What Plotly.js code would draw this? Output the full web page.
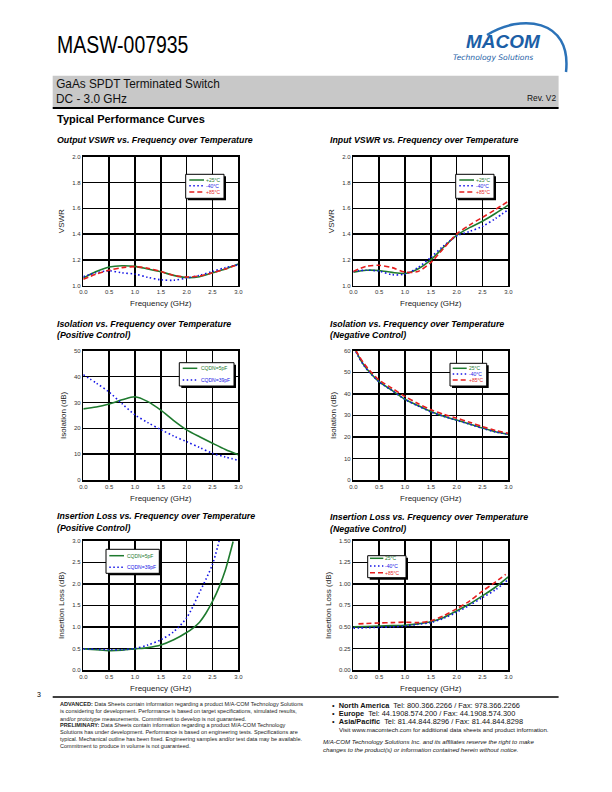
<!DOCTYPE html>
<html><head><meta charset="utf-8">
<script src="https://cdn.plot.ly/plotly-3.0.1.min.js"></script>
<style>html,body{margin:0;padding:0;background:#fff}#g{width:612px;height:792px}</style>
</head><body><div id="g"></div>
<script>
// ---------- DATA ----------
const freqQ = [0, 0.25, 0.5, 0.75, 1.0, 1.25, 1.5, 1.75, 2.0, 2.25, 2.5, 2.75, 3.0];

// Output VSWR
const outVswr25 = [1.06, 1.11, 1.145, 1.155, 1.15, 1.13, 1.108, 1.08, 1.063, 1.07, 1.10, 1.13, 1.168];
const outVswrM40 = [1.07, 1.10, 1.115, 1.10, 1.09, 1.065, 1.046, 1.042, 1.06, 1.08, 1.11, 1.14, 1.162];
const outVswr85 = [1.05, 1.09, 1.12, 1.14, 1.148, 1.135, 1.11, 1.08, 1.068, 1.075, 1.10, 1.13, 1.165];

// Input VSWR
const inVswr25 = [1.105, 1.12, 1.118, 1.103, 1.095, 1.13, 1.20, 1.30, 1.39, 1.45, 1.50, 1.56, 1.625];
const inVswrM40 = [1.11, 1.12, 1.113, 1.085, 1.09, 1.14, 1.22, 1.31, 1.385, 1.42, 1.46, 1.52, 1.59];
const inVswr85 = [1.11, 1.15, 1.158, 1.14, 1.105, 1.11, 1.18, 1.29, 1.40, 1.47, 1.53, 1.59, 1.655];

// Isolation, positive control
const isoPos5pF = [27.5, 28.2, 29.4, 31.0, 32.2, 30.3, 27.0, 23.0, 19.4, 16.7, 14.2, 11.8, 9.8];
const isoPos39pF = [40.7, 37.5, 34.0, 29.5, 25.2, 22.2, 19.5, 17.0, 14.8, 12.6, 10.3, 8.9, 7.6];

// Isolation, negative control
const freqIsoNeg = [0.05, 0.1, 0.2, 0.3, 0.5, 0.75, 1.0, 1.25, 1.5, 1.75, 2.0, 2.25, 2.5, 2.75, 3.0];
const isoNeg25 = [60, 57.5, 53.5, 50.5, 45.6, 41.6, 37.5, 34.6, 31.8, 29.6, 27.8, 26.0, 24.1, 22.4, 21.2];
const isoNegM40 = [59.5, 57.2, 53.3, 50.3, 45.5, 41.5, 37.4, 34.4, 31.6, 29.5, 27.7, 25.9, 24.0, 22.3, 21.2];
const isoNeg85 = [60, 58.0, 54.3, 51.3, 46.4, 42.6, 38.8, 35.5, 32.6, 30.5, 28.7, 26.8, 24.8, 23.0, 21.7];

// Insertion loss, positive control
const freqIlPos5 = [0, 0.25, 0.5, 0.75, 1.0, 1.25, 1.5, 1.75, 2.0, 2.13, 2.25, 2.37, 2.5, 2.63, 2.75, 2.9];
const ilPos5pF = [0.49, 0.47, 0.45, 0.46, 0.49, 0.52, 0.58, 0.70, 0.87, 0.98, 1.11, 1.31, 1.59, 1.93, 2.32, 2.98];
const freqIlPos39 = [0, 0.25, 0.5, 0.75, 1.0, 1.25, 1.5, 1.75, 2.0, 2.25, 2.5, 2.63];
const ilPos39pF = [0.49, 0.48, 0.47, 0.47, 0.50, 0.58, 0.70, 0.89, 1.21, 1.80, 2.45, 3.0];

// Insertion loss, negative control
const ilNeg25 = [0.50, 0.505, 0.51, 0.515, 0.52, 0.535, 0.56, 0.61, 0.685, 0.765, 0.86, 0.96, 1.08];
const ilNegM40 = [0.485, 0.49, 0.495, 0.50, 0.51, 0.53, 0.55, 0.60, 0.67, 0.75, 0.84, 0.93, 1.05];
const freqIlNeg85 = [0.1, 0.25, 0.5, 0.75, 1.0, 1.25, 1.5, 1.75, 2.0, 2.25, 2.5, 2.75, 2.95];
const ilNeg85 = [0.535, 0.54, 0.545, 0.55, 0.555, 0.55, 0.57, 0.63, 0.71, 0.80, 0.915, 1.02, 1.11];

const xTickVals = [0, 0.5, 1.0, 1.5, 2.0, 2.5, 3.0];

// ---------- STYLE / LAYOUT ----------
const W = 612, H = 792;
const px = x => x / W;
const py = y => 1 - y / H;
const FONT = 'Liberation Sans, Arial, sans-serif';
const GREEN = '#1e7a2e', BLUE = '#1414e6', RED = '#e61e1e';
const DOT = '1.5px,2.5px', DASH = '5px,3px';

function tr(x, y, color, dash, xa, ya) {
  return {x: x, y: y, type: 'scatter', mode: 'lines', xaxis: xa, yaxis: ya,
    line: {color: color, width: 1.6, dash: dash, shape: 'spline', smoothing: 0.8}, showlegend: false, hoverinfo: 'skip'};
}

const data = [
  tr(freqQ, outVswr25, GREEN, 'solid', 'x', 'y'),
  tr(freqQ, outVswrM40, BLUE, DOT, 'x', 'y'),
  tr(freqQ, outVswr85, RED, DASH, 'x', 'y'),
  tr(freqQ, inVswr25, GREEN, 'solid', 'x2', 'y2'),
  tr(freqQ, inVswrM40, BLUE, DOT, 'x2', 'y2'),
  tr(freqQ, inVswr85, RED, DASH, 'x2', 'y2'),
  tr(freqQ, isoPos5pF, GREEN, 'solid', 'x3', 'y3'),
  tr(freqQ, isoPos39pF, BLUE, DOT, 'x3', 'y3'),
  tr(freqIsoNeg, isoNeg25, GREEN, 'solid', 'x4', 'y4'),
  tr(freqIsoNeg, isoNegM40, BLUE, DOT, 'x4', 'y4'),
  tr(freqIsoNeg, isoNeg85, RED, DASH, 'x4', 'y4'),
  tr(freqIlPos5, ilPos5pF, GREEN, 'solid', 'x5', 'y5'),
  tr(freqIlPos39, ilPos39pF, BLUE, DOT, 'x5', 'y5'),
  tr(freqQ, ilNeg25, GREEN, 'solid', 'x6', 'y6'),
  tr(freqQ, ilNegM40, BLUE, DOT, 'x6', 'y6'),
  tr(freqIlNeg85, ilNeg85, RED, DASH, 'x6', 'y6')
];

const LX = [83.3, 238.3], RX = [353.3, 508.3];
const R1 = [156.7, 285.7], R2 = [350.7, 480], R3 = [540.7, 670];

function xax(dom, anchor) {
  return {domain: [px(dom[0]), px(dom[1])], anchor: anchor, range: [0, 3], tickvals: xTickVals,
    ticktext: xTickVals.map(v => v.toFixed(1)), showline: true, mirror: true, linecolor: '#000', linewidth: 1.5,
    showgrid: true, gridcolor: '#000', gridwidth: 1.5, zeroline: false, ticks: '',
    tickfont: {family: FONT, size: 6, color: '#333'},
    title: {text: 'Frequency (GHz)', font: {family: FONT, size: 8, color: '#222'}, standoff: 6}};
}
function yax(dom, anchor, range, dtick, dec, title) {
  const vals = [];
  for (let v = range[0]; v <= range[1] + 1e-9; v += dtick) vals.push(+v.toFixed(4));
  return {domain: [py(dom[1]), py(dom[0])], anchor: anchor, range: range, tickvals: vals,
    ticktext: vals.map(v => v.toFixed(dec)), showline: true, mirror: true, linecolor: '#000', linewidth: 1.5,
    showgrid: true, gridcolor: '#000', gridwidth: 1.5, zeroline: false, ticks: '',
    tickfont: {family: FONT, size: 6, color: '#333'},
    title: {text: title, font: {family: FONT, size: 8, color: '#222'}, standoff: 6}};
}

const shapes = [];
const annotations = [];
const condense = [];

function txt(x, y, text, size, opts) {
  annotations.push(Object.assign({xref: 'paper', yref: 'paper', x: px(x), y: py(y), text: text, showarrow: false,
    xanchor: 'left', yanchor: 'middle', font: {family: FONT, size: size, color: '#000'}}, opts || {}));
  return annotations.length - 1;
}

function legend(box, lineX, textX, rows) {
  shapes.push({type: 'rect', xref: 'paper', yref: 'paper', x0: px(box[0] + 2), x1: px(box[2] + 2), y0: py(box[3] + 2), y1: py(box[1] + 2),
    fillcolor: '#000', line: {width: 0}, layer: 'above'});
  shapes.push({type: 'rect', xref: 'paper', yref: 'paper', x0: px(box[0]), x1: px(box[2]), y0: py(box[3]), y1: py(box[1]),
    fillcolor: '#fff', line: {color: '#000', width: 1}, layer: 'above'});
  rows.forEach(r => {
    shapes.push({type: 'line', xref: 'paper', yref: 'paper', x0: px(lineX[0]), x1: px(lineX[1]), y0: py(r[0]), y1: py(r[0]),
      line: {color: r[1], width: 1.5, dash: r[2]}, layer: 'above'});
    txt(textX, r[0], r[3], 5, {font: {family: FONT, size: 5, color: r[1]}});
  });
}

// legends
legend([185.7, 174.3, 224, 198.3], [189.3, 204], 204, [[180, GREEN, 'solid', '+25°C'], [185.7, BLUE, DOT, '-40°C'], [192, RED, DASH, '+85°C']]);
legend([455.7, 174.3, 494, 198.3], [459.3, 474], 474, [[180, GREEN, 'solid', '+25°C'], [185.7, BLUE, DOT, '-40°C'], [192, RED, DASH, '+85°C']]);
legend([179.3, 362.7, 234, 386], [182.7, 197.3], 199, [[368.3, GREEN, 'solid', 'CQDN=5pF'], [380, BLUE, DOT, 'CQDN=39pF']]);
legend([450, 363.3, 486.7, 386], [452.7, 466.7], 467, [[368.3, GREEN, 'solid', '25°C'], [374, BLUE, DOT, '-40°C'], [380, RED, DASH, '+85°C']]);
legend([106, 549.3, 159.3, 573.3], [109.3, 124], 124.7, [[555.7, GREEN, 'solid', 'CQDN=5pF'], [567.3, BLUE, DOT, 'CQDN=39pF']]);
legend([367.7, 555.7, 406, 577.7], [370, 383.3], 383.3, [[558.3, GREEN, 'solid', '25°C'], [566, BLUE, DOT, '-40°C'], [572.7, RED, DASH, '+85°C']]);

// header
shapes.push({type: 'rect', xref: 'paper', yref: 'paper', x0: px(52.7), x1: px(558.6), y0: py(107.5), y1: py(75.7),
  fillcolor: '#c8c8c8', line: {width: 0}, layer: 'below'});
shapes.push({type: 'line', xref: 'paper', yref: 'paper', x0: px(52.7), x1: px(558.6), y0: py(108), y1: py(108),
  line: {color: '#000', width: 2}});
shapes.push({type: 'line', xref: 'paper', yref: 'paper', x0: px(52.7), x1: px(558.6), y0: py(697), y1: py(697),
  line: {color: '#000', width: 1.5}});
// logo arc
shapes.push({type: 'path', xref: 'paper', yref: 'paper',
  path: 'M ' + px(487) + ' ' + py(35) + ' C ' + px(520) + ' ' + py(14) + ' ' + px(572) + ' ' + py(18) + ' ' + px(566) + ' ' + py(72),
  line: {color: '#2b72b8', width: 2.5}});

condense.push([txt(55, 44, 'MASW-007935', 24, {font: {family: FONT, size: 24, color: '#000'}}), 0.81, 'left center']);
txt(464, 41, '<b><i>MACOM</i></b>', 19, {font: {family: FONT, size: 19, color: '#1b5ea6'}});
txt(451, 58, '<i>Technology Solutions</i>', 9, {font: {family: 'DejaVu Sans, sans-serif', size: 7.6, color: '#1b5ea6'}});
condense.push([txt(54, 83.5, 'GaAs SPDT Terminated Switch', 13, {font: {family: FONT, size: 13, color: '#111'}}), 0.91, 'left center']);
condense.push([txt(54, 98.5, 'DC - 3.0 GHz', 13, {font: {family: FONT, size: 13, color: '#111'}}), 0.91, 'left center']);
condense.push([txt(557.5, 98, 'Rev. V2', 9, {xanchor: 'right', font: {family: FONT, size: 9.5, color: '#111'}}), 0.88, 'right center']);
txt(55, 118.5, '<b>Typical Performance Curves</b>', 11, {font: {family: FONT, size: 11, color: '#000'}});

// plot titles
const TF = {family: FONT, size: 8.8, color: '#000'};
txt(55, 140, '<b><i>Output VSWR vs. Frequency over Temperature</i></b>', 8.8, {font: TF});
txt(327.5, 140.5, '<b><i>Input VSWR vs. Frequency over Temperature</i></b>', 8.8, {font: TF});
txt(55, 323.5, '<b><i>Isolation vs. Frequency over Temperature</i></b>', 8.8, {font: TF});
txt(55, 335, '<b><i>(Positive Control)</i></b>', 8.8, {font: TF});
txt(327.5, 323.5, '<b><i>Isolation vs. Frequency over Temperature</i></b>', 8.8, {font: TF});
txt(327.5, 335, '<b><i>(Negative Control)</i></b>', 8.8, {font: TF});
txt(55, 516, '<b><i>Insertion Loss vs. Frequency over Temperature</i></b>', 8.8, {font: TF});
txt(55, 527.7, '<b><i>(Positive Control)</i></b>', 8.8, {font: TF});
txt(327.5, 517, '<b><i>Insertion Loss vs. Frequency over Temperature</i></b>', 8.8, {font: TF});
txt(327.5, 528.7, '<b><i>(Negative Control)</i></b>', 8.8, {font: TF});

// footer
txt(35, 694, '3', 7, {font: {family: FONT, size: 7, color: '#000'}});
const FF = {family: FONT, size: 5.55, color: '#222'};
const leftLines = [
  [704, '<b>ADVANCED:</b> Data Sheets contain information regarding a product M/A-COM Technology Solutions'],
  [711.3, 'is considering for development. Performance is based on target specifications, simulated results,'],
  [718.5, 'and/or prototype measurements. Commitment to develop is not guaranteed.'],
  [724.8, '<b>PRELIMINARY:</b> Data Sheets contain information regarding a product M/A-COM Technology'],
  [732, 'Solutions has under development. Performance is based on engineering tests. Specifications are'],
  [738.8, 'typical. Mechanical outline has been fixed. Engineering samples and/or test data may be available.'],
  [745.6, 'Commitment to produce in volume is not guaranteed.']
];
leftLines.forEach(l => txt(57.5, l[0], l[1], 5.55, {font: FF}));
const RF = {family: FONT, size: 7.4, color: '#111'};
txt(330, 705.5, '•  <b>North America</b>  Tel: 800.366.2266 / Fax: 978.366.2266', 7.4, {font: RF});
txt(330, 713.5, '•  <b>Europe</b>  Tel: 44.1908.574.200 / Fax: 44.1908.574.300', 7.4, {font: RF});
txt(330, 721.5, '•  <b>Asia/Pacific</b>  Tel: 81.44.844.8296 / Fax: 81.44.844.8298', 7.4, {font: RF});
txt(336.5, 729, 'Visit www.macomtech.com for additional data sheets and product information.', 6.1, {font: {family: FONT, size: 6.1, color: '#111'}});
txt(321, 741, '<i>M/A-COM Technology Solutions Inc. and its affiliates reserve the right to make</i>', 6.1, {font: {family: FONT, size: 6.1, color: '#111'}});
txt(321, 749, '<i>changes to the product(s) or information contained herein without notice.</i>', 6.1, {font: {family: FONT, size: 6.1, color: '#111'}});

const layout = {
  width: W, height: H, margin: {l: 0, r: 0, t: 0, b: 0}, paper_bgcolor: '#fff', plot_bgcolor: '#fff',
  showlegend: false, font: {family: FONT},
  xaxis: xax(LX, 'y'), yaxis: yax(R1, 'x', [1, 2], 0.2, 1, 'VSWR'),
  xaxis2: xax(RX, 'y2'), yaxis2: yax(R1, 'x2', [1, 2], 0.2, 1, 'VSWR'),
  xaxis3: xax(LX, 'y3'), yaxis3: yax(R2, 'x3', [0, 50], 10, 0, 'Isolation (dB)'),
  xaxis4: xax(RX, 'y4'), yaxis4: yax(R2, 'x4', [0, 60], 10, 0, 'Isolation (dB)'),
  xaxis5: xax(LX, 'y5'), yaxis5: yax(R3, 'x5', [0, 3], 0.5, 1, 'Insertion Loss (dB)'),
  xaxis6: xax(RX, 'y6'), yaxis6: yax(R3, 'x6', [0, 1.5], 0.25, 2, 'Insertion Loss (dB)'),
  shapes: shapes, annotations: annotations
};
Plotly.newPlot('g', data, layout, {staticPlot: true, displayModeBar: false}).then(gd => {
  condense.forEach(c => {
    const t = gd.querySelector('.annotation[data-index="' + c[0] + '"] text');
    if (t) {
      t.style.transformBox = 'fill-box';
      t.style.transformOrigin = c[2];
      t.style.transform = 'scaleX(' + c[1] + ')';
    }
  });
});
</script></body></html>
